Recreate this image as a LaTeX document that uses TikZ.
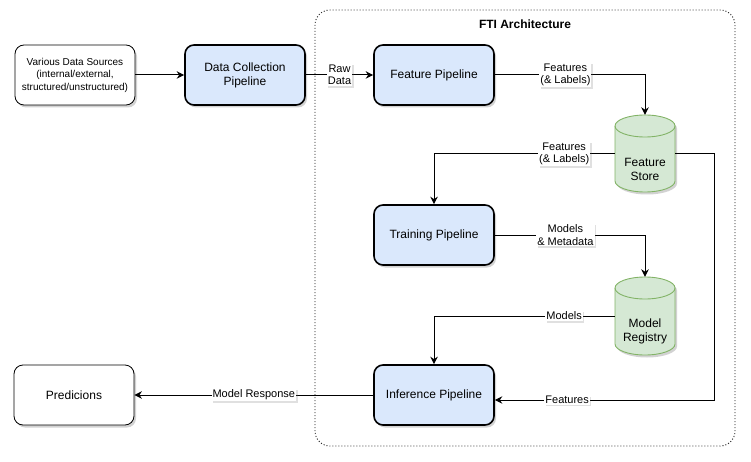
\documentclass[tikz,border=0pt]{standalone}
\usepackage{fontspec}
\setmainfont{Liberation Sans}
\usetikzlibrary{shadows,arrows.meta,calc}
\definecolor{bluefill}{HTML}{DAE8FC}
\definecolor{greenfill}{HTML}{D5E8D4}
\definecolor{greenline}{HTML}{82B366}
\tikzset{
  shad/.style={drop shadow={shadow xshift=2pt,shadow yshift=-2.5pt,opacity=0.25,fill=black!70}},
  lshad/.style={drop shadow={shadow xshift=1.5pt,shadow yshift=-1.5pt,opacity=0.2,fill=black!60}},
  pipe/.style={draw, line width=1.6pt, fill=bluefill, rounded corners=9pt,
    minimum width=120pt, minimum height=60pt, align=center,
    font=\fontsize{12}{14}\selectfont, shad},
  plainbox/.style={draw, line width=0.8pt, fill=white, rounded corners=9pt,
    minimum width=120pt, minimum height=60pt, align=center, shad},
  cylanchor/.style={minimum width=60pt, minimum height=78pt, inner sep=0pt},
  cyltext/.style={align=center, font=\fontsize{12}{14}\selectfont},
  arr/.style={draw, line width=1pt, -{Stealth[length=7.5pt,width=7.5pt]}},
  lbl/.style={fill=white, inner sep=1pt, align=center,
    font=\fontsize{11}{12.5}\selectfont, lshad},
}
\newcommand{\mycyl}[3]{% x-center, ytop, ybottom
  \fill[black!70,opacity=0.25] (#1-30+2,#2+11+2.5) -- (#1-30+2,#3-11+2.5)
     arc (180:360:30pt and 11pt) -- (#1+30+2,#2+11+2.5) arc (0:180:30pt and 11pt) -- cycle;
  \filldraw[fill=greenfill, draw=greenline, line width=0.9pt]
     (#1-30,#2+11) -- (#1-30,#3-11) arc (180:360:30pt and 11pt)
     -- (#1+30,#2+11) arc (0:180:30pt and 11pt) -- cycle;
  \draw[greenline, line width=0.9pt] (#1-30,#2+11) arc (180:360:30pt and 11pt);
}
\begin{document}
\begin{tikzpicture}[x=1pt,y=-1pt]
\useasboundingbox (0,0) rectangle (751,462);

% container
\draw[black!90, line width=0.9pt, dash pattern=on 1pt off 2pt, rounded corners=15pt]
  (315,10) rectangle (735,446);
\node[font=\bfseries\fontsize{12}{14}\selectfont] (title) at (525,24) {FTI Architecture};

% boxes
\node[plainbox, font=\fontsize{10}{12.5}\selectfont] (src) at (75,75)
  {Various Data Sources\\(internal/external,\\structured/unstructured)};
\node[pipe] (dcp) at (245,75) {Data Collection\\Pipeline};
\node[pipe] (fp) at (434,75) {Feature Pipeline};
\node[pipe] (tp) at (434,235) {Training Pipeline};
\node[pipe] (ip) at (434,395) {Inference Pipeline};
\node[plainbox, font=\fontsize{12}{14}\selectfont] (pred) at (74,395) {Predicions};

% cylinders
\mycyl{645}{115}{192}
\node[cylanchor] (fs) at (645,154) {};
\node[cyltext] (fstext) at (645,169) {Feature\\Store};
\mycyl{645}{277}{355}
\node[cylanchor] (mr) at (645,316) {};
\node[cyltext] (mrtext) at (645,331) {Model\\Registry};

\coordinate (rt) at (714,154);
\coordinate (ipf) at ([yshift=-5pt]ip.east);

% connectors
\draw[arr] (src) -- (dcp);
\draw[arr] (dcp) -- node[lbl]{Raw\\Data} (fp);
\draw[arr] (fp.east) -- node[lbl,pos=0.47]{Features\\(\& Labels)} (fp.east -| fs.north) -- (fs.north);
\draw[arr] (fs.west) -- node[lbl,pos=0.28]{Features\\(\& Labels)} (fs.west -| tp.north) -- (tp.north);
\draw[arr] (tp.east) -- node[lbl,pos=0.47]{Models\\\& Metadata} (tp.east -| mr.north) -- (mr.north);
\draw[arr] (mr.west) -- node[lbl,pos=0.28]{Models} (mr.west -| ip.north) -- (ip.north);
\draw[arr] (fs.east) -- (rt) -- (rt |- ipf) -- node[lbl,pos=0.67]{Features} (ipf);
\draw[arr] (ip) -- node[lbl]{Model Response} (pred);
\end{tikzpicture}
\end{document}
